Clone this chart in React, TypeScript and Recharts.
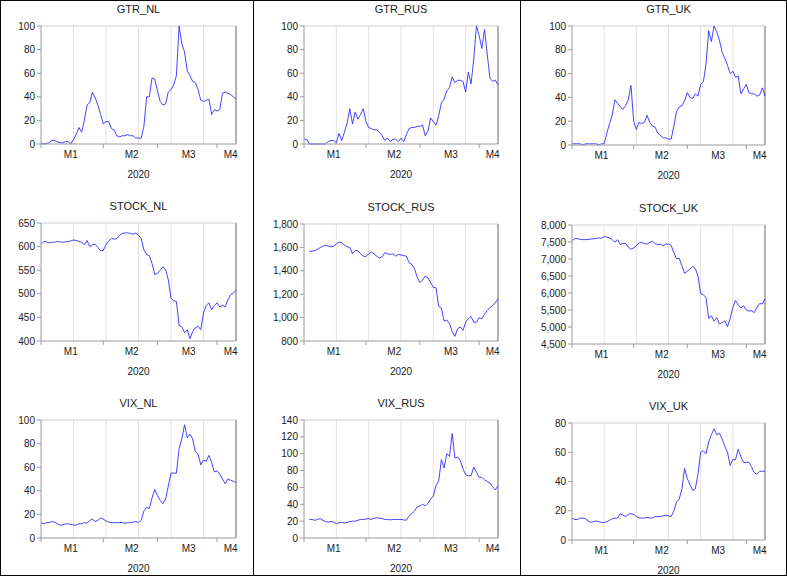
import React from "react";
import { LineChart, Line, XAxis, YAxis, ReferenceLine } from "recharts";

// observations: trading days from early Jan 2020 to early Apr 2020
const N_OBS = 73;
const MONTH_TICKS = [0, 23, 43, 65];
const MONTH_LABELS = ["M1", "M2", "M3", "M4"];
const MONTH_LABEL_POS = [11, 33.5, 54.5, 70];
const GRID_X = [12, 24, 36, 48, 60];
const YEAR_LABEL = "2020";

const GTR_NL = [
  1, 0, 0.5, 1, 3, 3, 2, 1, 1, 2, 2, 0, 4, 8, 14, 10, 20, 33, 35, 44, 39, 33, 25, 17, 19,
  19, 13, 12, 7, 6, 7, 7, 8, 7, 7, 5, 5, 5, 15, 40, 40, 56, 55, 45, 36, 33, 34, 44, 46, 50,
  58, 100, 85, 78, 62, 58, 53, 52, 46, 37, 36, 37, 38, 25, 29, 28, 29, 43, 44, 43, 42, 40, 38,
];
const GTR_RUS = [
  4, 4, 0, 0, 0, 0, 0, 0, 0, 2, 3, 3, 1, 9, 3, 10, 18, 30, 17, 27, 21, 25, 30, 19, 14,
  13, 12, 12, 10, 7, 3, 5, 2, 4, 4, 2, 5, 2, 8, 13, 14, 14, 15, 15, 16, 7, 11, 22, 19, 16,
  24, 35, 38, 45, 48, 57, 52, 54, 54, 53, 44, 61, 51, 72, 100, 92, 81, 97, 76, 56, 53, 54, 50,
];
const GTR_UK = [
  1, 1, 1, 1, 0, 1, 1, 1, 1, 1, 0, 1, 1, 10, 18, 25, 38, 35, 32, 30, 33, 38, 50, 20, 13,
  19, 18, 19, 25, 19, 16, 15, 10, 8, 6, 6, 5, 5, 16, 28, 32, 33, 37, 44, 40, 39, 43, 41, 51, 53,
  68, 96, 87, 100, 95, 88, 78, 73, 67, 60, 62, 57, 58, 43, 47, 51, 44, 43, 43, 41, 42, 48, 41,
];
const STOCK_NL = [
  605, 611, 610, 608, 609, 609, 611, 610, 609, 610, 611, 612, 614, 613, 611, 609, 604, 613,
  600, 604, 605, 598, 591, 592, 604, 612, 617, 616, 617, 624, 628, 629, 629, 628, 626, 629,
  624, 617, 593, 583, 581, 564, 541, 543, 550, 557, 552, 530, 491, 485, 484, 433, 430, 418,
  424, 405, 420, 428, 431, 424, 460, 475, 481, 466, 475, 481, 472, 476, 472, 487, 498, 501, 508,
];
const STOCK_RUS = [
  null, null, 1565, 1568, 1572, 1585, 1598, 1610, 1620, 1610, 1605, 1610, 1630, 1645, 1640,
  1620, 1605, 1600, 1545, 1575, 1570, 1548, 1525, 1522, 1545, 1560, 1545, 1525, 1508, 1520,
  1555, 1545, 1540, 1545, 1525, 1540, 1535, 1530, 1525, 1470, 1455, 1420, 1345, 1300, 1320,
  1355, 1340, 1300, 1258, 1255, 1095, 1080, 970, 980, 950, 880, 840, 905, 920, 890, 960, 990,
  1010, 960, 960, 1000, 990, 1030, 1060, 1085, 1105, 1125, 1160,
];
const STOCK_UK = [
  7540, 7600, 7600, 7580, 7570, 7570, 7575, 7585, 7595, 7605, 7620, 7610, 7660, 7645, 7620,
  7570, 7490, 7570, 7420, 7460, 7460, 7350, 7285, 7320, 7400, 7470, 7490, 7455, 7440, 7490,
  7520, 7450, 7420, 7440, 7380, 7440, 7440, 7400, 7180, 7010, 7020, 6800, 6580, 6640, 6700,
  6780, 6720, 6500, 5980, 5950, 5860, 5250, 5330, 5170, 5280, 5090, 5130, 5180, 5010, 5250,
  5580, 5780, 5650, 5560, 5620, 5500, 5470, 5480, 5420, 5580, 5690, 5680, 5820,
];
const VIX_NL = [
  13, 12, 13, 13, 14, 13.5, 12, 11, 11, 12, 12, 11.5, 11, 11, 12, 12, 13, 12.5, 15, 16, 14,
  15, 17, 16, 14.5, 13.5, 13, 13, 13, 13, 13, 12.5, 13, 13, 13.5, 14, 13, 15, 23, 26, 25, 34,
  41, 36, 32, 29, 33, 44, 55, 55, 55, 76, 84, 96, 85, 88, 84, 73, 71, 62, 66, 65, 70, 64, 56,
  57, 54, 50, 46, 50, 49, 48, 47,
];
const VIX_RUS = [
  null, null, 22, 22, 21, 22, 23, 21, 19.5, 19, 19.5, 19, 17, 18, 18.5, 18, 18.5, 19.5, 20,
  20, 21, 22, 22, 22.5, 23, 22, 23.5, 24, 23.5, 23, 22, 22, 21.5, 22, 22, 22, 22, 21.5, 21,
  26, 29, 32, 37, 38, 40, 38, 41, 46, 50, 62, 68, 93, 83, 100, 97, 124, 95, 96, 92, 82, 75,
  74, 74, 84, 78, 72, 72, 69, 67, 65, 61, 57, 62,
];
const VIX_UK = [
  15, 14, 14, 15, 15, 14.5, 13, 12, 12.5, 13, 12.5, 12, 12, 12.5, 13.5, 14.5, 15, 15, 18, 17,
  16, 17.5, 18, 17.5, 16, 15, 15, 15, 15.5, 15, 15, 16, 16, 16, 16.5, 17, 16.5, 16, 20, 26,
  28, 35, 49, 42, 38, 34, 35, 45, 60, 61, 59, 67, 72, 76, 72, 73, 69, 64, 60, 51, 55, 55, 62,
  57, 53, 53, 53, 50, 46, 45, 47, 47, 47,
];

const GTR_TICKS = [0, 20, 40, 60, 80, 100];
const STOCK_NL_TICKS = [400, 450, 500, 550, 600, 650];
const STOCK_RUS_TICKS = [800, 1000, 1200, 1400, 1600, 1800];
const STOCK_UK_TICKS = [4500, 5000, 5500, 6000, 6500, 7000, 7500, 8000];
const VIX_NL_TICKS = [0, 20, 40, 60, 80, 100];
const VIX_RUS_TICKS = [0, 20, 40, 60, 80, 100, 120, 140];
const VIX_UK_TICKS = [0, 20, 40, 60, 80];

const FONT = "'Liberation Sans', Arial, sans-serif";
const AXIS = "#9a9a9a";
const TEXT = "#1a1a1a";
const LINE = "#2f2fff";

type PanelCfg = {
  title: string;
  values: (number | null)[];
  ticks: number[];
  comma?: boolean;
  l: number;
  r: number;
  t: number;
  b: number;
};

const PANELS: PanelCfg[] = [
  { title: "GTR_NL", values: GTR_NL, ticks: GTR_TICKS, l: 40, r: 235, t: 25, b: 143 },
  { title: "GTR_RUS", values: GTR_RUS, ticks: GTR_TICKS, l: 303, r: 497, t: 25, b: 143 },
  { title: "GTR_UK", values: GTR_UK, ticks: GTR_TICKS, l: 571, r: 764, t: 25, b: 144 },
  { title: "STOCK_NL", values: STOCK_NL, ticks: STOCK_NL_TICKS, l: 40, r: 235, t: 222, b: 340 },
  { title: "STOCK_RUS", values: STOCK_RUS, ticks: STOCK_RUS_TICKS, comma: true, l: 303, r: 497, t: 223, b: 340 },
  { title: "STOCK_UK", values: STOCK_UK, ticks: STOCK_UK_TICKS, comma: true, l: 571, r: 764, t: 224, b: 343 },
  { title: "VIX_NL", values: VIX_NL, ticks: VIX_NL_TICKS, l: 40, r: 235, t: 419, b: 537 },
  { title: "VIX_RUS", values: VIX_RUS, ticks: VIX_RUS_TICKS, l: 303, r: 497, t: 419, b: 537 },
  { title: "VIX_UK", values: VIX_UK, ticks: VIX_UK_TICKS, l: 571, r: 764, t: 422, b: 539 },
];

const Y_W = 38;

function Panel({ p }: { p: PanelCfg }) {
  const plotW = p.r - p.l;
  const plotH = p.b - p.t;
  const pxPerObs = plotW / (N_OBS - 1);
  const rows = p.values.map((v, i) => ({ i, v }));
  const lo = p.ticks[0];
  const hi = p.ticks[p.ticks.length - 1];

  const monthTick = (props: any) => {
    const { x, y, payload } = props;
    const k = MONTH_TICKS.indexOf(payload.value);
    const lx = x + (MONTH_LABEL_POS[k] - payload.value) * pxPerObs;
    return (
      <text x={lx} y={y} dy="0.71em" textAnchor="middle" fontSize={10} fill={TEXT} fontFamily={FONT}>
        {MONTH_LABELS[k]}
      </text>
    );
  };

  return (
    <>
      <div
        style={{
          position: "absolute",
          left: p.l,
          width: plotW,
          top: p.t - 24,
          lineHeight: "14px",
          textAlign: "center",
          fontSize: 11,
          fontFamily: FONT,
          color: TEXT,
        }}
      >
        {p.title}
      </div>
      <div style={{ position: "absolute", left: p.l - Y_W, top: p.t - 5 }}>
        <LineChart
          width={plotW + Y_W + 6}
          height={plotH + 5 + 34 + 6}
          data={rows}
          margin={{ top: 5, right: 6, left: 0, bottom: 6 }}
        >
          <XAxis
            dataKey="i"
            type="number"
            domain={[0, N_OBS - 1]}
            ticks={MONTH_TICKS}
            interval={0}
            tickSize={4}
            tickMargin={3}
            stroke={AXIS}
            tick={monthTick}
            height={34}
            label={{ value: YEAR_LABEL, position: "insideBottom", offset: 0, fill: TEXT, fontSize: 10, fontFamily: FONT }}
          />
          <YAxis
            type="number"
            domain={[lo, hi]}
            ticks={p.ticks}
            interval={0}
            width={Y_W}
            tickSize={4}
            tickMargin={2}
            stroke={AXIS}
            tick={{ fontSize: 10, fill: TEXT, fontFamily: FONT }}
            tickFormatter={(v: number) => (p.comma ? v.toLocaleString("en-US") : String(v))}
          />
          {GRID_X.map((gx) => (
            <ReferenceLine key={gx} x={gx} stroke="#e2e2e2" />
          ))}
          <ReferenceLine y={hi} stroke="#cfcfcf" />
          <ReferenceLine x={N_OBS - 1} stroke={AXIS} strokeWidth={1.5} />
          <Line
            type="linear"
            dataKey="v"
            stroke={LINE}
            strokeWidth={0.9}
            dot={false}
            isAnimationActive={false}
          />
        </LineChart>
      </div>
    </>
  );
}

export default function App() {
  return (
    <div
      style={{
        position: "absolute",
        left: 0,
        top: 0,
        width: 787,
        height: 576,
        background: "#fff",
        border: "1px solid #000",
        boxSizing: "border-box",
        overflow: "hidden",
      }}
    >
      <div style={{ position: "absolute", left: 252, top: 0, width: 1, height: 576, background: "#000" }} />
      <div style={{ position: "absolute", left: 519, top: 0, width: 1, height: 576, background: "#000" }} />
      {PANELS.map((p) => (
        <Panel key={p.title} p={p} />
      ))}
    </div>
  );
}
